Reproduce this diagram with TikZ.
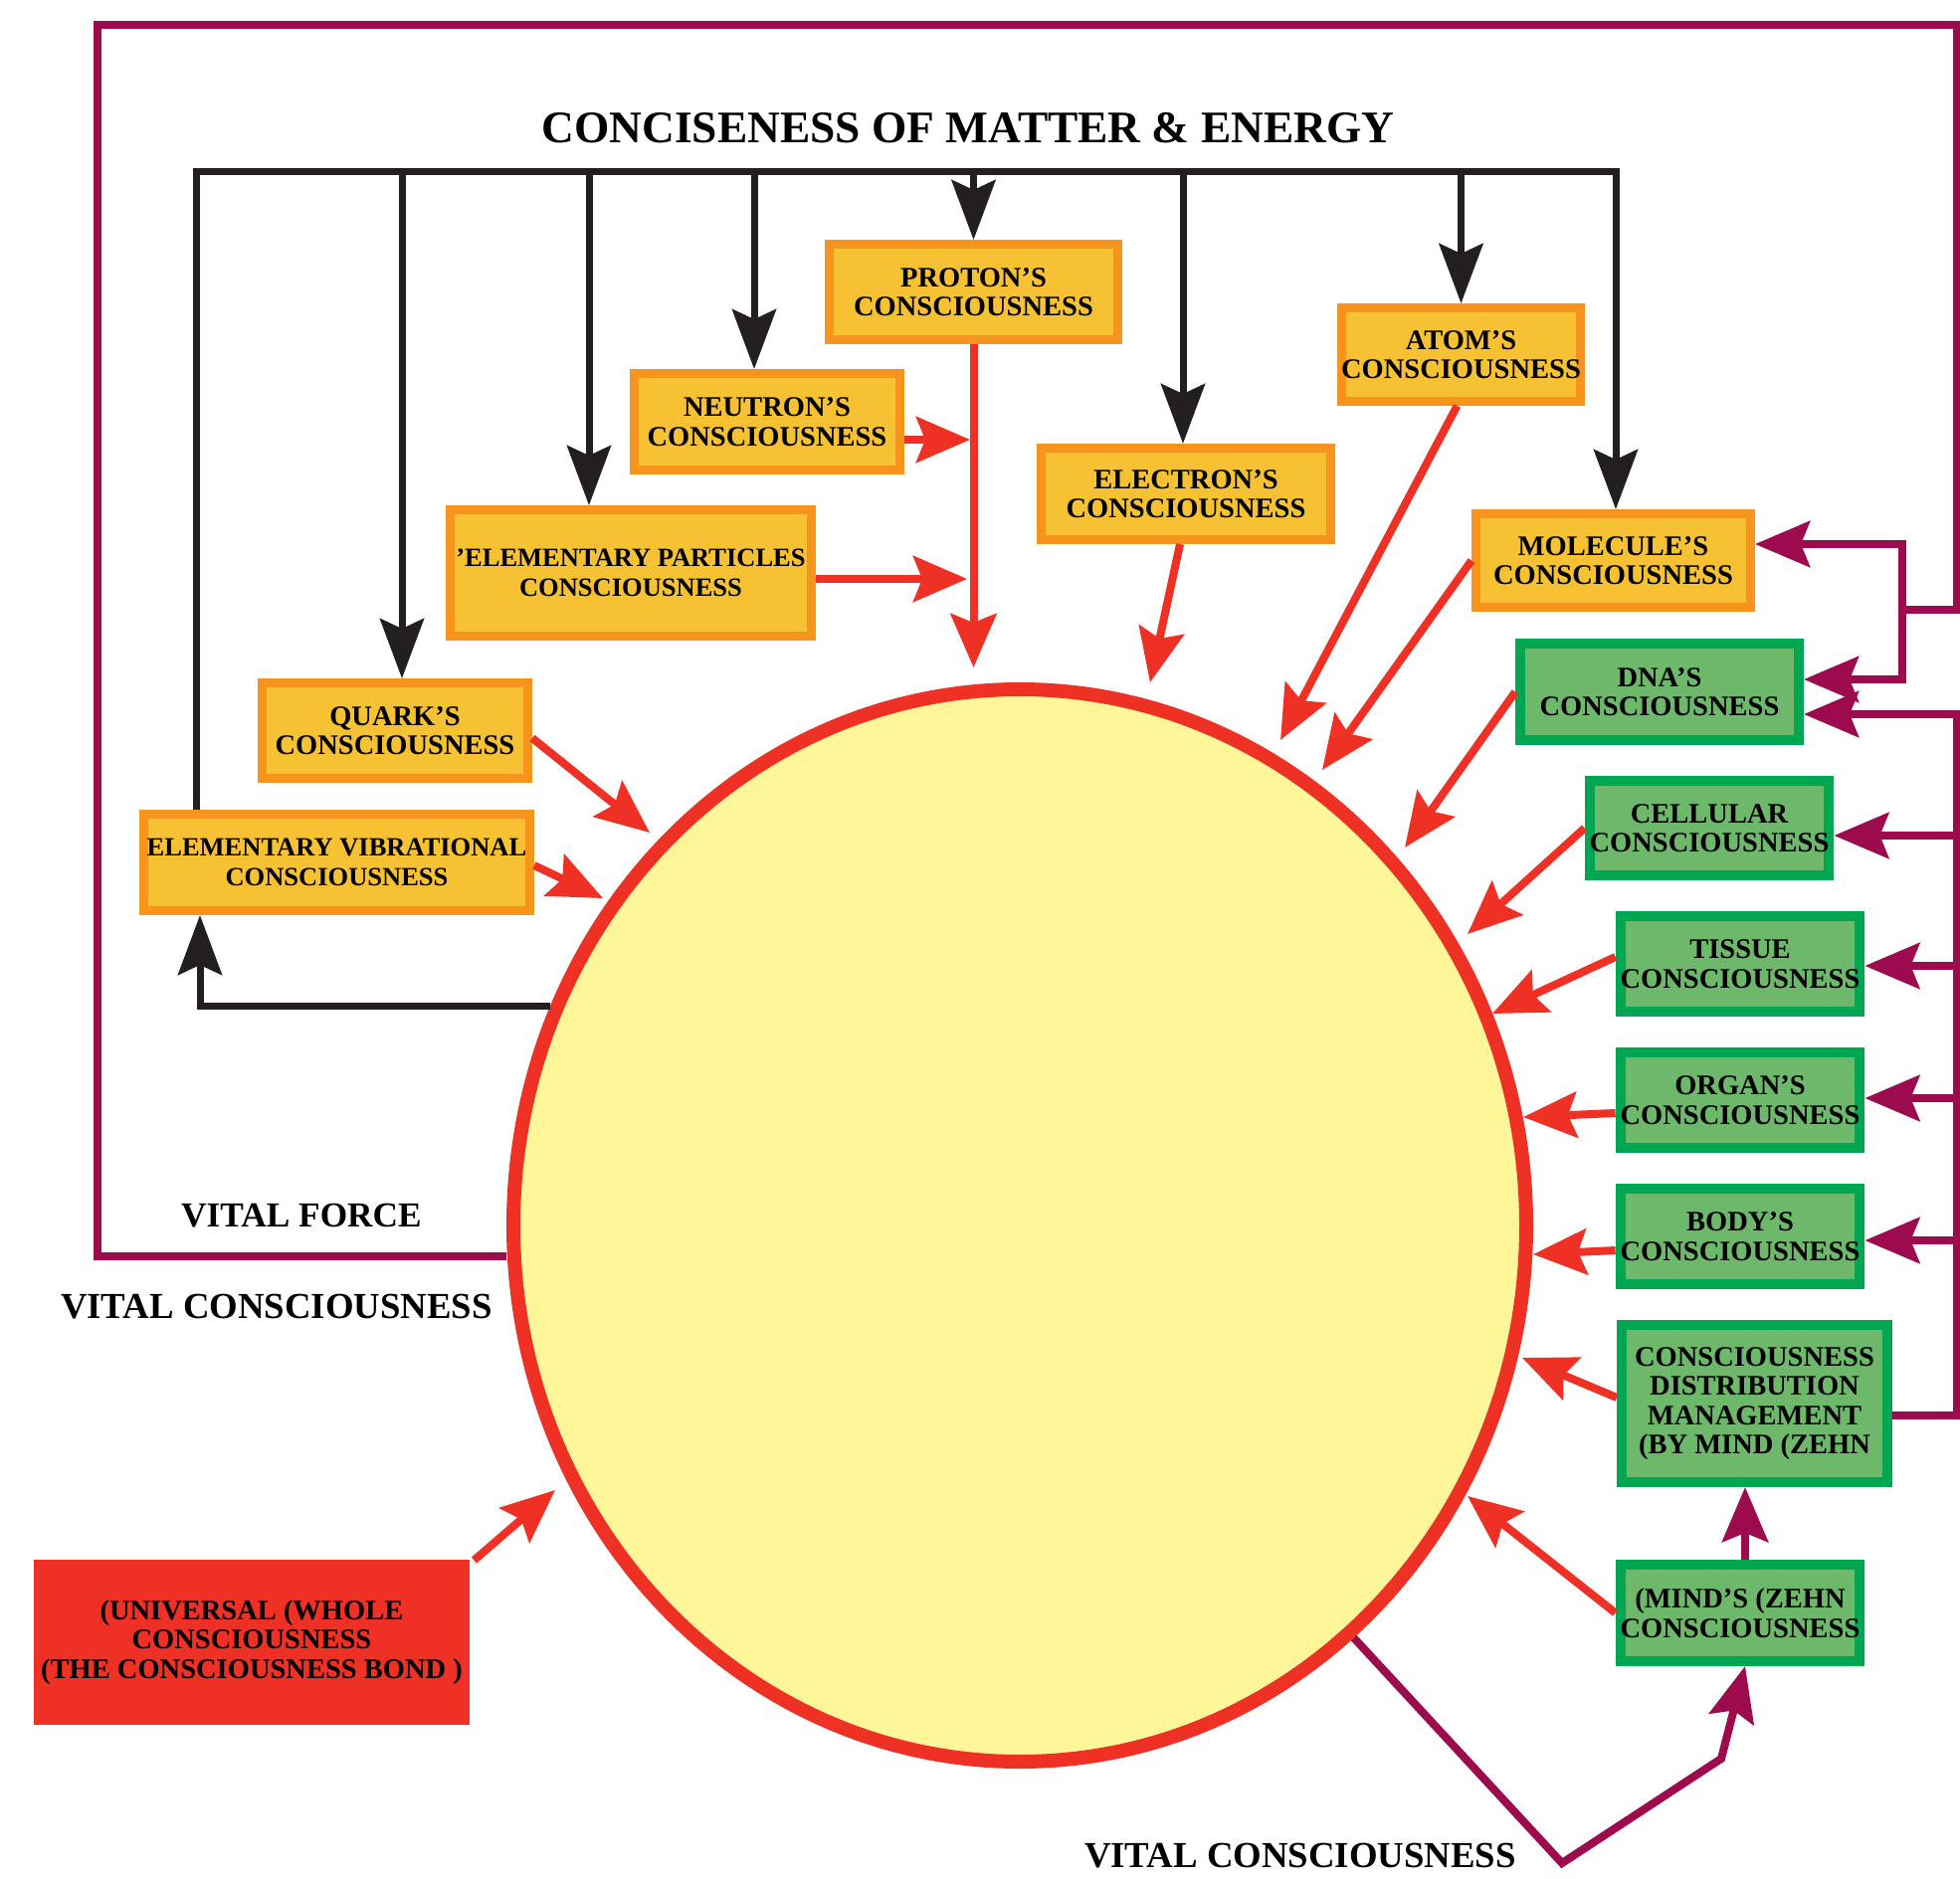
\documentclass[tikz,border=0pt]{standalone}
\usepackage{fontspec}
\setmainfont{Liberation Serif}
\usetikzlibrary{arrows.meta,shapes.geometric,calc}
\definecolor{orF}{HTML}{F6C233}
\definecolor{orB}{HTML}{F7941D}
\definecolor{grF}{HTML}{6DB86A}
\definecolor{grB}{HTML}{00A651}
\definecolor{redc}{HTML}{EE3124}
\definecolor{circF}{HTML}{FFF599}
\definecolor{blk}{HTML}{231F20}
\definecolor{purp}{HTML}{9E0A4E}
\begin{document}
\begin{tikzpicture}[x=1pt,y=-1pt,
 box/.style={line width=9pt, inner sep=0pt, align=center, font=\fontsize{28.5}{29.5}\selectfont\bfseries, text=black},
 obox/.style={box, draw=orB, fill=orF},
 gbox/.style={box, draw=grB, fill=grF, line width=10pt},
 smallfont/.style={font=\fontsize{26.5}{29.5}\selectfont\bfseries},
 redarrow/.style={draw=redc, line width=8pt, -{Stealth[length=54pt,width=46pt,inset=9pt]}},
 blkline/.style={draw=blk, line width=7pt, line join=miter},
 blkarrow/.style={blkline, -{Stealth[length=60pt,width=44pt,inset=10pt]}},
 purline/.style={draw=purp, line width=8pt, line join=miter},
 purarrow/.style={purline, -{Stealth[length=55pt,width=46pt,inset=9pt]}},
 lbl/.style={anchor=base, inner sep=0pt},
]
\useasboundingbox (0,0) rectangle (1970,1888);
\fill[white] (0,0) rectangle (1970,1888);

% central circle
\node[ellipse, draw=redc, fill=circF, line width=14pt, inner sep=0pt,
      minimum width=1018pt, minimum height=1078pt] (core) at (1025,1232) {};

% orange boxes
\node[obox, minimum width=290pt, minimum height=96pt] (proton) at (978.5,293.5) {PROTON'S\\CONSCIOUSNESS};
\node[obox, minimum width=267pt, minimum height=97pt] (neutron) at (771,424) {NEUTRON'S\\CONSCIOUSNESS};
\node[obox, smallfont, minimum width=363pt, minimum height=127pt] (elempart) at (634,576) {'ELEMENTARY PARTICLES\\CONSCIOUSNESS};
\node[obox, minimum width=267pt, minimum height=96pt] (quark) at (397,734.5) {QUARK'S\\CONSCIOUSNESS};
\node[obox, smallfont, minimum width=388pt, minimum height=97pt] (elemvib) at (338.5,867) {ELEMENTARY VIBRATIONAL\\CONSCIOUSNESS};
\node[obox, minimum width=291pt, minimum height=92pt] (electron) at (1192,496.5) {ELECTRON'S\\CONSCIOUSNESS};
\node[obox, minimum width=234pt, minimum height=94pt] (atom) at (1468.5,356.5) {ATOM'S\\CONSCIOUSNESS};
\node[obox, minimum width=276pt, minimum height=94pt] (molecule) at (1621.5,563.5) {MOLECULE'S\\CONSCIOUSNESS};

% green boxes
\node[gbox, minimum width=280pt, minimum height=97pt] (dna) at (1668,695.5) {DNA'S\\CONSCIOUSNESS};
\node[gbox, minimum width=232pt, minimum height=95pt] (cellular) at (1718,832.5) {CELLULAR\\CONSCIOUSNESS};
\node[gbox, minimum width=232pt, minimum height=96pt] (tissue) at (1749,969) {TISSUE\\CONSCIOUSNESS};
\node[gbox, minimum width=232pt, minimum height=96pt] (organ) at (1749,1106) {ORGAN'S\\CONSCIOUSNESS};
\node[gbox, minimum width=232pt, minimum height=96pt] (body) at (1749,1243) {BODY'S\\CONSCIOUSNESS};
\node[gbox, minimum width=267pt, minimum height=158pt] (cdm) at (1763.5,1411) {CONSCIOUSNESS\\DISTRIBUTION\\MANAGEMENT\\(BY MIND (ZEHN};
\node[gbox, minimum width=232pt, minimum height=97pt] (mind) at (1749,1621.5) {(MIND'S (ZEHN\\CONSCIOUSNESS};

% red box
\node[box, fill=redc, minimum width=438pt, minimum height=166pt] (universal) at (253,1651) {(UNIVERSAL (WHOLE\\CONSCIOUSNESS\\(THE CONSCIOUSNESS BOND )};

% labels
\node[lbl, font=\fontsize{45.4}{46}\selectfont\bfseries] (title) at (973,143) {CONCISENESS OF MATTER \& ENERGY};
\node[lbl, font=\fontsize{35.3}{36}\selectfont\bfseries] (vforce) at (303,1233) {VITAL FORCE};
\node[lbl, font=\fontsize{36.8}{37}\selectfont\bfseries] (vcleft) at (278,1325) {VITAL CONSCIOUSNESS};
\node[lbl, font=\fontsize{36.8}{37}\selectfont\bfseries] (vcbottom) at (1307,1877) {VITAL CONSCIOUSNESS};

% black bus and arrows
\coordinate (busL) at (197,172);
\coordinate (busR) at (1624,172);
\draw[blkarrow] ([xshift=-141.5pt]elemvib.north) -- (busL) -- (busR) -- ([xshift=2.5pt]molecule.north);
\draw[blkarrow] ([xshift=7pt]quark.north |- busL) -- ([xshift=7pt]quark.north);
\draw[blkarrow] ([xshift=-42pt]elempart.north |- busL) -- ([xshift=-42pt]elempart.north);
\draw[blkarrow] ([xshift=-13pt]neutron.north |- busL) -- ([xshift=-13pt]neutron.north);
\draw[blkarrow] (proton.north |- busL) -- (proton.north);
\draw[blkarrow] ([xshift=-3pt]electron.north |- busL) -- ([xshift=-3pt]electron.north);
\draw[blkarrow] (atom.north |- busL) -- (atom.north);
\draw[blkarrow] (core.155.5) -| ([xshift=-137.5pt]elemvib.south);

% red arrows into the core
\coordinate (tP) at (978.5,671);
\coordinate (tN) at (975,442);
\coordinate (tE) at (972,582);
\coordinate (tQ) at (653,837);
\coordinate (tV) at (606,903);
\coordinate (tEl) at (1156,686);
\coordinate (tA) at (1287,744);
\coordinate (tM) at (1329,774);
\coordinate (tD) at (1412,852);
\coordinate (tC) at (1475,939);
\coordinate (tT) at (1500,1019);
\coordinate (tO) at (1531,1123);
\coordinate (tB) at (1541,1261);
\coordinate (tCD) at (1530,1365);
\coordinate (tMi) at (1475,1504);
\coordinate (tU) at (558,1498);
\draw[redarrow] (proton.south) -- (tP);
\draw[redarrow] ([yshift=-18pt]neutron.east) -- (tN);
\draw[redarrow] ([yshift=-6pt]elempart.east) -- (tE);
\draw[redarrow] ([yshift=-7.5pt]quark.east) -- (tQ);
\draw[redarrow] ([yshift=-3pt]elemvib.east) -- (tV);
\draw[redarrow] ([xshift=-6pt]electron.south) -- (tEl);
\draw[redarrow] ([xshift=-4pt]atom.south) -- (tA);
\draw[redarrow] (molecule.west) -- (tM);
\draw[redarrow] (dna.west) -- (tD);
\draw[redarrow] (cellular.west) -- (tC);
\draw[redarrow] ([yshift=7pt]tissue.west) -- (tT);
\draw[redarrow] ([yshift=-13pt]organ.west) -- (tO);
\draw[redarrow] ([yshift=-14pt]body.west) -- (tB);
\draw[redarrow] ([yshift=6pt]cdm.west) -- (tCD);
\draw[redarrow] (mind.west) -- (tMi);
\draw[redarrow] ([yshift=-5pt]universal.north east) -- (tU);

% purple connectors
\coordinate (fTL) at (98,25);
\coordinate (fTR) at (1967,25);
\coordinate (pS) at ([yshift=-31pt]core.west);
\coordinate (jM) at (1912,613);
\draw[purarrow] (pS) -| (fTL) -| (fTR |- jM) -- (jM) |- ([yshift=16.5pt]molecule.east);
\draw[purarrow] (jM) |- ([yshift=12.5pt]dna.east);
\coordinate (dA2) at ([yshift=-22.5pt]dna.east);
\draw[purarrow] ([yshift=-12pt]cdm.east) -| (dA2 -| fTR) -- (dA2);
\draw[purarrow] ([yshift=-7.5pt]cellular.east -| fTR) -- ([yshift=-7.5pt]cellular.east);
\draw[purarrow] ([yshift=-2pt]tissue.east -| fTR) -- ([yshift=-2pt]tissue.east);
\draw[purarrow] ([yshift=2pt]organ.east -| fTR) -- ([yshift=2pt]organ.east);
\draw[purarrow] ([yshift=-4pt]body.east -| fTR) -- ([yshift=-4pt]body.east);
\draw[purarrow] ([xshift=5pt]mind.north) -- ([xshift=5pt]mind.north |- cdm.south);
\coordinate (vb1) at (1570,1873);
\coordinate (vb2) at (1730,1768);
\draw[purarrow] (core.-51.6) -- (vb1) -- (vb2) -- ([xshift=5pt]mind.south);
\end{tikzpicture}
\end{document}
